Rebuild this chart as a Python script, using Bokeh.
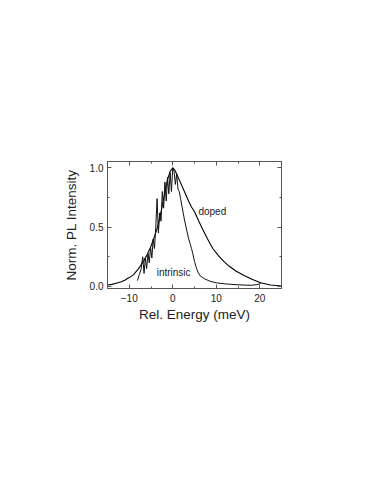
from bokeh.plotting import figure
from bokeh.models import LinearAxis, FixedTicker, NumeralTickFormatter, Label, Range1d
from bokeh.embed import file_html
from bokeh.resources import INLINE

doped_x = [-15, -14, -13, -12, -11, -10.5, -10, -9, -8.2, -7.5, -6.6, -6, -5.1, -4.3, -3.5,
           -2.9, -2.3, -1.8, -1.2, -0.6, 0, 0.4, 1, 1.6, 2.2, 2.8, 3.5, 4.3, 5.0, 6.0, 6.9,
           8.0, 9.2, 10.5, 11.9, 13.0, 14.5, 16.4, 18.2, 20.2, 22.5, 25]
doped_y = [0.012, 0.018, 0.028, 0.038, 0.052, 0.065, 0.075, 0.10, 0.135, 0.17, 0.22, 0.26,
           0.33, 0.41, 0.50, 0.59, 0.70, 0.79, 0.90, 0.97, 1.0, 0.985, 0.94, 0.89, 0.84,
           0.79, 0.73, 0.67, 0.63, 0.55, 0.48, 0.40, 0.32, 0.26, 0.205, 0.17, 0.13, 0.093,
           0.06, 0.031, 0.012, 0.004]

intrinsic_x = [-8.1, -7.7, -7.3, -6.9, -6.6, -6.3, -6.0, -5.7, -5.4, -5.1, -4.8, -4.5, -4.2,
               -3.9, -3.6, -3.3, -3.0, -2.7, -2.4, -2.1, -1.8, -1.5, -1.2, -0.9, -0.6, -0.3,
               0.0, 0.3, 0.6, 0.9, 1.2, 1.5, 1.8, 2.1, 2.4, 2.7, 3.0, 3.3, 3.6, 4.0, 4.3, 4.6,
               5.0, 5.4, 5.8, 6.3, 7.3, 8.5, 10, 12, 15, 18, 19.3, 20.2]
intrinsic_y = [0.05, 0.10, 0.14, 0.25, 0.11, 0.24, 0.15, 0.28, 0.20, 0.33, 0.24, 0.40, 0.32,
               0.50, 0.74, 0.45, 0.62, 0.55, 0.80, 0.66, 0.88, 0.72, 0.92, 0.78, 0.96, 0.80,
               1.00, 0.97, 0.86, 0.95, 0.82, 0.80, 0.74, 0.68, 0.62, 0.56, 0.51, 0.46, 0.41,
               0.36, 0.32, 0.28, 0.21, 0.16, 0.12, 0.09, 0.065, 0.045, 0.031, 0.022, 0.014,
               0.01, 0.015, 0.025]

x_ticks = [-10, 0, 10, 20]
x_minor = [-15, -5, 5, 15, 25]
y_ticks = [0.0, 0.5, 1.0]
y_minor = [0.25, 0.75]

FONT = "Liberation Sans"

p = figure(frame_width=174, frame_height=127, min_border_left=107, min_border_top=161,
           min_border_right=40, min_border_bottom=60,
           x_range=Range1d(-15, 25), y_range=Range1d(-0.017, 1.053),
           output_backend="svg", toolbar_location=None,
           x_axis_label="Rel. Energy (meV)", y_axis_label="Norm. PL Intensity")
p.grid.visible = False
p.outline_line_color = "#555555"
p.outline_line_width = 1
p.background_fill_color = "white"
p.border_fill_color = "white"

p.line(doped_x, doped_y, line_color="black", line_width=1.1)
p.line(intrinsic_x, intrinsic_y, line_color="#111111", line_width=1.0)

def style(ax):
    ax.major_tick_in = 4
    ax.major_tick_out = 0
    ax.minor_tick_in = 2
    ax.minor_tick_out = 0
    ax.axis_line_color = "#555555"
    ax.major_tick_line_color = "#555555"
    ax.minor_tick_line_color = "#555555"
    ax.major_label_text_font = FONT
    ax.major_label_text_font_size = "10px"
    ax.major_label_text_color = "#222222"
    ax.axis_label_text_font = FONT
    ax.axis_label_text_font_size = "13.5px"
    ax.axis_label_text_font_style = "normal"
    ax.axis_label_text_color = "#222222"

for ax in p.xaxis:
    ax.ticker = FixedTicker(ticks=x_ticks, minor_ticks=x_minor)
    style(ax)
    ax.axis_label_standoff = 2
    ax.major_label_standoff = 5
for ax in p.yaxis:
    ax.ticker = FixedTicker(ticks=y_ticks, minor_ticks=y_minor)
    ax.formatter = NumeralTickFormatter(format="0.0")
    style(ax)
    ax.axis_label_standoff = 8
    ax.major_label_standoff = 4

top = LinearAxis(ticker=FixedTicker(ticks=x_ticks, minor_ticks=x_minor))
style(top)
top.major_label_text_color = None
top.major_label_standoff = 0
p.add_layout(top, "above")
right = LinearAxis(ticker=FixedTicker(ticks=y_ticks, minor_ticks=y_minor))
style(right)
right.major_label_text_color = None
right.major_label_standoff = 0
p.add_layout(right, "right")

p.add_layout(Label(x=9.1, y=0.63, text="doped", text_font=FONT, text_font_size="10px",
                   text_align="center", text_baseline="middle", text_color="#222222"))
p.add_layout(Label(x=0.2, y=0.115, text="intrinsic", text_font=FONT, text_font_size="10px",
                   text_align="center", text_baseline="middle", text_color="#222222"))

open("out.html", "w").write(file_html(p, INLINE))
